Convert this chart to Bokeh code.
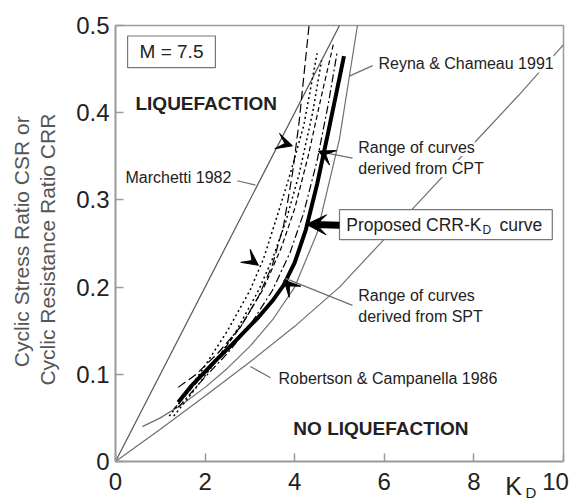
from math import pi

from bokeh.plotting import figure
from bokeh.models import Label, Arrow, VeeHead, FixedTicker, Range1d, NumeralTickFormatter
from bokeh.embed import file_html
from bokeh.resources import INLINE

# ---- axes -------------------------------------------------------------
kd_ticks = [0, 2, 4, 6, 8, 10]
crr_ticks = [0, 0.1, 0.2, 0.3, 0.4, 0.5]

# ---- published CRR-KD correlations -----------------------------------
kd_marchetti = [0.0, 5.0]
crr_marchetti = [0.0, 0.5]

kd_robertson = [0, 1, 2, 3, 4, 5, 6, 7, 8, 9, 10]
crr_robertson = [0.0, 0.037, 0.075, 0.114, 0.155, 0.200, 0.255, 0.310, 0.365, 0.420, 0.478]

kd_reyna = [0.6, 1.0, 1.5, 2.0, 2.5, 3.0, 3.5, 4.0, 4.5, 5.0, 5.4]
crr_reyna = [0.040, 0.050, 0.066, 0.085, 0.107, 0.132, 0.162, 0.200, 0.262, 0.370, 0.500]

# ---- proposed CRR-KD curve --------------------------------------------
kd_proposed = [1.4, 1.7, 2.0, 2.3, 2.6, 2.9, 3.2, 3.5, 3.75, 4.0, 4.25, 4.5, 4.75, 5.0, 5.1]
crr_proposed = [0.068, 0.087, 0.103, 0.119, 0.134, 0.150, 0.166, 0.184, 0.202, 0.228,
                0.266, 0.318, 0.378, 0.440, 0.465]

# ---- curves derived from CPT / SPT correlations -----------------------
kd_spt_a = [1.2, 1.5, 2.0, 2.5, 3.0, 3.3, 3.6, 3.9, 4.2, 4.5]
crr_spt_a = [0.052, 0.072, 0.110, 0.150, 0.196, 0.232, 0.280, 0.330, 0.385, 0.468]

kd_spt_b = [1.3, 1.7, 2.2, 2.7, 3.2, 3.5, 3.8, 4.1, 4.4, 4.6]
crr_spt_b = [0.052, 0.078, 0.112, 0.150, 0.197, 0.232, 0.275, 0.330, 0.400, 0.460]

kd_cpt_a = [1.4, 1.8, 2.3, 2.8, 3.2, 3.5, 3.75, 3.95, 4.1, 4.22, 4.32]
crr_cpt_a = [0.085, 0.100, 0.125, 0.155, 0.190, 0.225, 0.270, 0.330, 0.390, 0.450, 0.500]

kd_cpt_b = [1.3, 1.8, 2.3, 2.8, 3.3, 3.7, 4.0, 4.3, 4.6, 4.87]
crr_cpt_b = [0.060, 0.090, 0.120, 0.155, 0.198, 0.245, 0.290, 0.350, 0.420, 0.480]

kd_cpt_c = [1.4, 2.0, 2.5, 3.0, 3.5, 3.9, 4.2, 4.5, 4.75, 4.95]
crr_cpt_c = [0.062, 0.097, 0.124, 0.156, 0.196, 0.240, 0.285, 0.345, 0.410, 0.470]

FONT = "Liberation Sans"
TXT = "#222222"
GREY = "#6f6f6f"
FRAME = "#9a9a9a"

# the canvas is the data frame; axes sit at KD = 0 and CRR = 0
p = figure(width=575, height=501, output_backend="svg", toolbar_location=None,
           x_range=Range1d(-2.567, 10.268), y_range=Range1d(-0.0459, 0.5287),
           min_border_left=0, min_border_right=0, min_border_top=0,
           min_border_bottom=0)

p.xgrid.visible = False
p.ygrid.visible = False
p.outline_line_color = None
p.background_fill_color = "white"
p.border_fill_color = "white"

p.xaxis.ticker = FixedTicker(ticks=kd_ticks)
p.yaxis.ticker = FixedTicker(ticks=crr_ticks)
p.yaxis.formatter = NumeralTickFormatter(format="0.[0]")
p.xaxis.major_label_overrides = {10: "10\u00a0"}
p.xaxis.fixed_location = 0
p.yaxis.fixed_location = 0
p.xaxis.bounds = (kd_ticks[0], kd_ticks[-1])
p.yaxis.bounds = (crr_ticks[0], crr_ticks[-1])
for ax in (p.xaxis[0], p.yaxis[0]):
    ax.axis_line_color = FRAME
    ax.axis_line_width = 2
    ax.major_tick_line_color = FRAME
    ax.major_tick_line_width = 1.5
    ax.major_tick_in = 8
    ax.major_tick_out = 0
    ax.minor_tick_line_color = None
    ax.major_label_text_font = FONT
    ax.major_label_text_font_size = "24px"
    ax.major_label_text_color = TXT
p.xaxis.major_label_standoff = 7
p.yaxis.major_label_standoff = 6

# top and right edges of the plot box
p.line([kd_ticks[0], kd_ticks[-1], kd_ticks[-1]],
       [crr_ticks[-1], crr_ticks[-1], crr_ticks[0]],
       line_color=FRAME, line_width=1.5)

# correlations
p.line(kd_marchetti, crr_marchetti, line_color="#555555", line_width=1.2)
p.line(kd_robertson, crr_robertson, line_color=GREY, line_width=1.2)
p.line(kd_reyna, crr_reyna, line_color=GREY, line_width=1.2)

# band of CPT / SPT derived curves
p.line(kd_spt_a, crr_spt_a, line_color="black", line_width=1.5, line_dash="2 3")
p.line(kd_spt_b, crr_spt_b, line_color="black", line_width=1.5, line_dash="2 3")
p.line(kd_cpt_a, crr_cpt_a, line_color="black", line_width=1.2, line_dash="9 4")
p.line(kd_cpt_b, crr_cpt_b, line_color="black", line_width=1.2, line_dash="5 3")
p.line(kd_cpt_c, crr_cpt_c, line_color="black", line_width=1.2, line_dash="8 3 2 3")

# proposed curve
p.line(kd_proposed, crr_proposed, line_color="black", line_width=4)

# leader lines
p.segment(x0=[2.72, 5.74, 5.29, 5.29, 3.46], y0=[0.322, 0.454, 0.348, 0.179, 0.096],
          x1=[3.125, 5.22, 4.69, 3.79, 3.01], y1=[0.317, 0.442, 0.354, 0.210, 0.109],
          line_color=GREY, line_width=1.2)

# framed boxes
p.quad(left=[0.27, 5.0], right=[2.23, 9.75], bottom=[0.4516, 0.2544], top=[0.488, 0.2888],
       fill_color="white", line_color="#777777", line_width=1.2)

# range markers
heads = [((3.70, 0.366), (3.95, 0.362)),
         ((4.78, 0.350), (4.53, 0.356)),
         ((2.95, 0.234), (3.19, 0.225)),
         ((4.00, 0.195), (3.76, 0.208))]
for (xs, ys), (xe, ye) in heads:
    p.add_layout(Arrow(end=VeeHead(size=16, fill_color="black", line_color="black"),
                       x_start=xs, y_start=ys, x_end=xe, y_end=ye, line_alpha=0))

# arrow to the proposed curve
p.add_layout(Arrow(end=VeeHead(size=20, fill_color="black", line_color="black"),
                   x_start=5.0, y_start=0.271, x_end=4.26, y_end=0.272,
                   line_width=7, line_color="black"))


def label(x, y, text, size="16px", bold=False, align="left", bg=None, angle=0,
          color=TXT):
    lab = Label(x=x, y=y, text=text, text_font=FONT, text_font_size=size,
                text_color=color, text_align=align, text_baseline="middle",
                text_font_style="bold" if bold else "normal", angle=angle)
    if bg:
        lab.background_fill_color = bg
    p.add_layout(lab)


label(1.25, 0.470, "M = 7.5", size="19px", align="center")
label(0.446, 0.410, "LIQUEFACTION", size="19px", bold=True)
label(3.97, 0.038, "NO LIQUEFACTION", size="19px", bold=True)
label(0.223, 0.3255, "Marchetti 1982")
label(5.87, 0.456, "Reyna & Chameau 1991", bg="white")
label(5.42, 0.360, "Range of curves", bg="white")
label(5.42, 0.336, "derived from CPT", bg="white")
label(5.42, 0.190, "Range of curves", bg="white")
label(5.42, 0.166, "derived from SPT", bg="white")
label(3.64, 0.095, "Robertson & Campanella 1986")

# proposed curve caption, with subscript D
label(5.15, 0.2716, "Proposed CRR-K", size="17.5px")
label(8.19, 0.266, "D", size="12px")
label(8.57, 0.2716, "curve", size="17.5px")

# axis titles
label(8.7, -0.0285, "K", size="25px")
label(9.15, -0.0355, "D", size="15px")
label(-2.1, 0.252, "Cyclic Stress Ratio CSR or", size="21px", angle=pi / 2,
      align="center", color="#555555")
label(-1.52, 0.243, "Cyclic Resistance Ratio CRR", size="21px", angle=pi / 2,
      align="center", color="#555555")

open("out.html", "w").write(file_html(p, INLINE))
